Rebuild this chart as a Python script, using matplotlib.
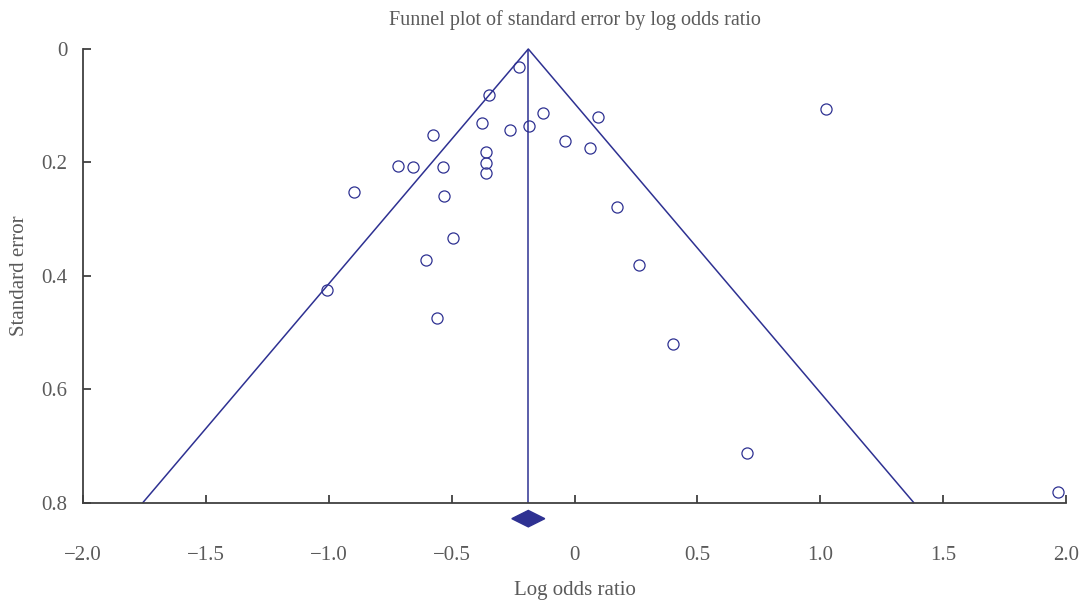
import numpy as np
import matplotlib.pyplot as plt
from matplotlib.patches import Polygon

# study estimates
log_or = [-0.224, -0.347, -0.127, 1.024, -0.376, -0.184, -0.261, 0.094, -0.576,
          -0.037, 0.064, -0.362, -0.362, -0.361, -0.718, -0.658, -0.536, -0.898,
          -0.531, 0.171, -0.494, -0.604, 0.261, -1.008, -0.559, 0.400, 0.702, 1.967]
std_err = [0.031, 0.082, 0.113, 0.106, 0.131, 0.135, 0.143, 0.120, 0.151,
           0.162, 0.174, 0.182, 0.201, 0.218, 0.207, 0.209, 0.208, 0.253,
           0.259, 0.278, 0.334, 0.372, 0.381, 0.425, 0.474, 0.521, 0.713, 0.781]

pooled = -0.188
ci_low, ci_high = -0.255, -0.121

xticks = [-2.0, -1.5, -1.0, -0.5, 0, 0.5, 1.0, 1.5, 2.0]
xlabels = ['\u22122.0', '\u22121.5', '\u22121.0', '\u22120.5', '0', '0.5', '1.0', '1.5', '2.0']
yticks = [0, 0.2, 0.4, 0.6, 0.8]
ylabels = ['0', '0.2', '0.4', '0.6', '0.8']

blue = '#2e3192'
grey = '#5a5a5a'
plt.rcParams['font.family'] = ['Liberation Serif', 'DejaVu Serif']

fig = plt.figure(figsize=(10.84, 6), dpi=100)
ax = fig.add_axes([83/1084, 1-502.5/600, (1066-83)/1084, (502.5-49)/600])

se_max = 0.8
ax.plot([pooled - 1.96*se_max, pooled, pooled + 1.96*se_max], [se_max, 0, se_max],
        color=blue, lw=1.1, clip_on=False)
ax.plot([pooled, pooled], [0, se_max], color=blue, lw=1.1)
ax.plot(log_or, std_err, 'o', mfc='none', mec=blue, ms=8, mew=0.9, clip_on=False)

dy = 0.0285
diamond = Polygon([[ci_low, se_max + dy], [pooled, se_max + dy - 0.0145],
                   [ci_high, se_max + dy], [pooled, se_max + dy + 0.0145]],
                  closed=True, fc=blue, ec=blue, clip_on=False)
ax.add_patch(diamond)

ax.set_xlim(-2, 2)
ax.set_ylim(0.8, 0)
ax.set_xticks(xticks)
ax.set_xticklabels(xlabels)
ax.set_yticks(yticks)
ax.set_yticklabels(ylabels)

for s in ['top', 'right']:
    ax.spines[s].set_visible(False)
for s in ['left', 'bottom']:
    ax.spines[s].set_color('#404040')
    ax.spines[s].set_linewidth(1.3)

ax.tick_params(axis='x', direction='in', length=6, width=1.3, color='#404040',
               labelsize=15, labelcolor=grey, pad=31)
ax.tick_params(axis='y', direction='in', length=6, width=1.3, color='#404040',
               labelsize=15, labelcolor=grey, pad=11)

ax.set_title('Funnel plot of standard error by log odds ratio', fontsize=14.5,
             color=grey, pad=17.5)
ax.set_xlabel('Log odds ratio', fontsize=15, color=grey, labelpad=12)
ax.set_ylabel('Standard error', fontsize=15, color=grey, labelpad=9)

fig.savefig('out.png', dpi=100)
